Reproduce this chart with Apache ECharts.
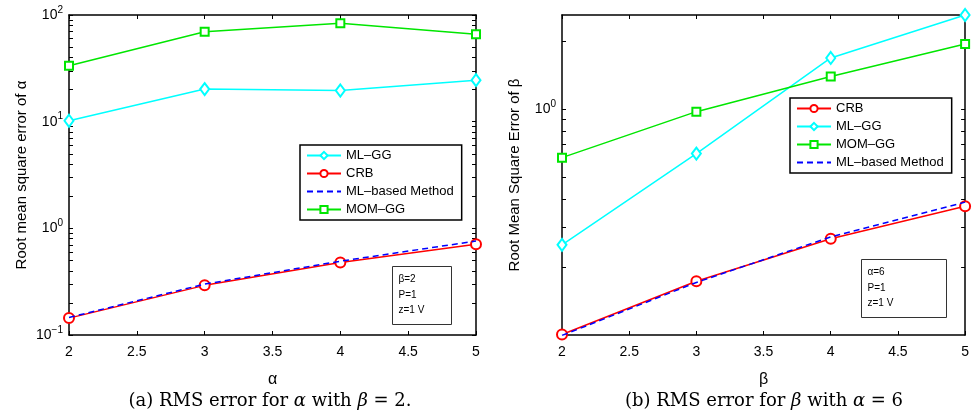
<!DOCTYPE html>
<html>
<head>
<meta charset="utf-8">
<script src="https://cdn.jsdelivr.net/npm/echarts@6/dist/echarts.min.js"></script>
<style>
html, body { margin: 0; padding: 0; background: #fff; }
#chart { width: 972px; height: 419px; }
</style>
</head>
<body>
<div id="chart"></div>
<script>
// (a) RMS error vs alpha, beta = 2
var alphaX = [2, 3, 4, 5];
var a_mlgg = [10.2, 20.2, 19.6, 24.5];
var a_crb = [0.144, 0.292, 0.479, 0.708];
var a_mlbased = [0.146, 0.300, 0.492, 0.760];
var a_momgg = [33.4, 69.8, 83.6, 66.0];

// (b) RMS error vs beta, alpha = 6
var betaX = [2, 3, 4, 5];
var b_crb = [0.1005, 0.173, 0.267, 0.372];
var b_mlgg = [0.251, 0.637, 1.69, 2.62];
var b_momgg = [0.611, 0.977, 1.40, 1.95];
var b_mlbased = [0.0995, 0.171, 0.272, 0.388];

var leftTicks = [0.1, 0.2, 0.3, 0.4, 0.5, 0.6, 0.7, 0.8, 0.9, 1, 2, 3, 4, 5, 6, 7, 8, 9, 10, 20, 30, 40, 50, 60, 70, 80, 90, 100];
var leftLabels = [0.1, 1, 10, 100];
var rightTicks = [0.2, 0.3, 0.4, 0.5, 0.6, 0.7, 0.8, 0.9, 1, 2];
var rightLabels = [1];

var chart = echarts.init(document.getElementById('chart'));

var FONT = 'Liberation Sans';
var CYAN = '#00ffff', RED = '#ff0000', BLUE = '#0000ff', GREEN = '#00e600';
var ML_BASED = 'ML\u2013based Method';

function pairs(xs, ys) {
    return xs.map(function (x, i) { return [x, ys[i]]; });
}

function pow10(v) {
    var e = Math.round(Math.log10(v));
    return '10{sup|' + (e < 0 ? '\u2212' + (-e) : e) + '}';
}

var labelRich = {
    sup: { fontSize: 10, verticalAlign: 'bottom', padding: [0, 0, 10, 0], fontFamily: FONT, color: '#000' }
};

function xAx(grid, pos, shown) {
    return {
        type: 'value', gridIndex: grid, position: pos, min: 2, max: 5, interval: 0.5,
        axisLine: { show: true, onZero: false, lineStyle: { color: '#000', width: 1.5 } },
        axisTick: { show: true, inside: true, length: 4, lineStyle: { color: '#000' } },
        axisLabel: { show: shown, color: '#000', fontSize: 14, fontFamily: FONT, margin: 10 },
        splitLine: { show: false },
        name: shown ? (grid === 0 ? '\u03b1' : '\u03b2') : '',
        nameLocation: 'middle', nameGap: 37,
        nameTextStyle: { fontSize: 16, fontFamily: FONT, color: '#000' }
    };
}

function yAx(grid, pos, min, max, ticks, labels, name) {
    return {
        type: 'log', logBase: 10, gridIndex: grid, position: pos, min: min, max: max,
        axisLine: { show: true, onZero: false, lineStyle: { color: '#000', width: 1.5 } },
        axisTick: { show: true, inside: true, length: 4, customValues: ticks, lineStyle: { color: '#000' } },
        axisLabel: {
            show: !!name, color: '#000', fontSize: 14, fontFamily: FONT, margin: 6,
            customValues: labels, formatter: pow10, rich: labelRich
        },
        splitLine: { show: false },
        minorTick: { show: false },
        name: name || '', nameLocation: 'middle', nameGap: 40,
        nameTextStyle: { fontSize: 15, fontFamily: FONT, color: '#000' }
    };
}

function line(name, xi, yi, data, color, symbol, size, dashed) {
    return {
        name: name, type: 'line', xAxisIndex: xi, yAxisIndex: yi, data: data,
        symbol: symbol, symbolSize: size, showSymbol: symbol !== 'none',
        lineStyle: { color: color, width: 1.5, type: dashed ? [6, 4] : 'solid' },
        itemStyle: { color: color, borderColor: color, borderWidth: 1.5 },
        emphasis: { disabled: true }, animation: false, z: dashed ? 4 : 3
    };
}

var legendBase = {
    orient: 'vertical', itemWidth: 34, itemHeight: 9, itemGap: 5,
    borderColor: '#000', borderWidth: 1.5, backgroundColor: '#fff',
    padding: [4, 8, 4, 6], borderRadius: 0, selectedMode: false,
    textStyle: { fontSize: 13, fontFamily: FONT, color: '#000' }
};

// dashed entry: hide the marker, keep the dashed line
var mlBasedEntry = { name: ML_BASED, itemStyle: { opacity: 0 } };

function noteBox(x, y, w, h, lines) {
    return {
        type: 'group', left: x, top: y, children: [
            { type: 'rect', shape: { x: 0, y: 0, width: w, height: h }, style: { fill: '#fff', stroke: '#333', lineWidth: 1 } },
            { type: 'text', x: 6, y: 5, style: { text: lines.join('\n'), font: '10px "Liberation Sans"', fill: '#000', lineHeight: 15.5 } }
        ]
    };
}

function caption(cx, txt) {
    return {
        type: 'text', x: cx, y: 392,
        style: {
            text: txt, align: 'center',
            font: '18px "DejaVu Serif"', fill: '#000',
            rich: { i: { fontStyle: 'italic', fontSize: 18, fontFamily: 'DejaVu Serif' } }
        }
    };
}

var option = {
    backgroundColor: '#fff',
    animation: false,
    grid: [
        { left: 69, right: 496, top: 15, bottom: 84 },
        { left: 562, right: 4, top: 15, bottom: 84 }
    ],
    xAxis: [xAx(0, 'bottom', true), xAx(0, 'top', false), xAx(1, 'bottom', true), xAx(1, 'top', false)],
    yAxis: [
        yAx(0, 'left', 0.1, 100, leftTicks, leftLabels, 'Root mean square error of \u03b1'),
        yAx(0, 'right', 0.1, 100, leftTicks, leftLabels, null),
        yAx(1, 'left', 0.1, 2.62, rightTicks, rightLabels, 'Root Mean Square Error of \u03b2'),
        yAx(1, 'right', 0.1, 2.62, rightTicks, rightLabels, null)
    ],
    legend: [
        Object.assign({}, legendBase, { left: 300, top: 145, data: ['ML\u2013GG', 'CRB', mlBasedEntry, 'MOM\u2013GG'] }),
        Object.assign({}, legendBase, { left: 790, top: 98, data: ['CRB', 'ML\u2013GG', 'MOM\u2013GG', mlBasedEntry] })
    ],
    series: [
        line('ML\u2013GG', 0, 0, pairs(alphaX, a_mlgg), CYAN, 'emptyDiamond', [9, 12], false),
        line('CRB', 0, 0, pairs(alphaX, a_crb), RED, 'emptyCircle', 10, false),
        line(ML_BASED, 0, 0, pairs(alphaX, a_mlbased), BLUE, 'none', 0, true),
        line('MOM\u2013GG', 0, 0, pairs(alphaX, a_momgg), GREEN, 'emptyRect', 8, false),
        line('CRB', 2, 2, pairs(betaX, b_crb), RED, 'emptyCircle', 10, false),
        line('ML\u2013GG', 2, 2, pairs(betaX, b_mlgg), CYAN, 'emptyDiamond', [9, 12], false),
        line('MOM\u2013GG', 2, 2, pairs(betaX, b_momgg), GREEN, 'emptyRect', 8, false),
        line(ML_BASED, 2, 2, pairs(betaX, b_mlbased), BLUE, 'none', 0, true)
    ],
    graphic: [
        noteBox(392, 266, 59, 58, ['\u03b2=2', 'P=1', 'z=1 V']),
        noteBox(861, 259, 85, 58, ['\u03b1=6', 'P=1', 'z=1 V']),
        caption(270, '(a) RMS error for {i|\u03b1} with {i|\u03b2} = 2.'),
        caption(764, '(b) RMS error for {i|\u03b2} with {i|\u03b1} = 6')
    ]
};

chart.setOption(option);
</script>
</body>
</html>
